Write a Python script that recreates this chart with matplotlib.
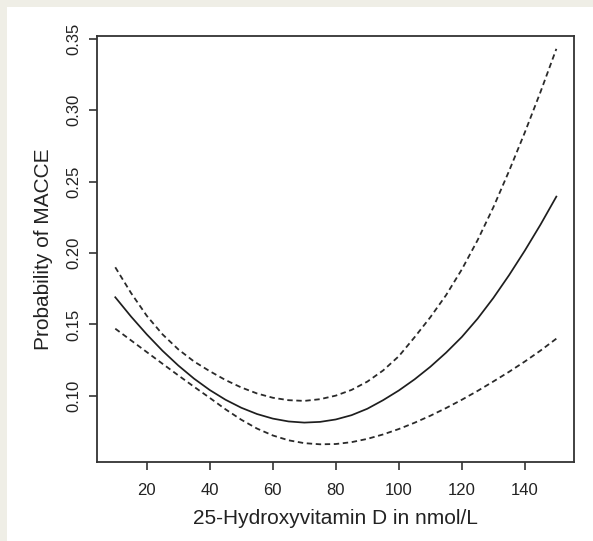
import numpy as np
import matplotlib.pyplot as plt
from matplotlib.patches import Rectangle

# 25-hydroxyvitamin D (nmol/L)
vitd = [10, 15, 20, 25, 30, 35, 40, 45, 50, 55, 60, 65, 70, 75, 80,
        85, 90, 95, 100, 105, 110, 115, 120, 125, 130, 135, 140, 145, 150]

# predicted probability of MACCE
prob = [0.169, 0.1555, 0.143, 0.1315, 0.1212, 0.112, 0.104, 0.0972, 0.0916, 0.0872,
        0.0840, 0.0820, 0.0812, 0.0817, 0.0834, 0.0864, 0.0909, 0.0969, 0.1037,
        0.1115, 0.1203, 0.1302, 0.1412, 0.154, 0.1685, 0.1845, 0.2017, 0.220, 0.2395]

# upper and lower confidence bounds
upper = [0.190, 0.172, 0.156, 0.143, 0.1325, 0.124, 0.1172, 0.111, 0.1058, 0.1016,
         0.0986, 0.0969, 0.0964, 0.0976, 0.1001, 0.1041, 0.1099, 0.1177, 0.1277,
         0.141, 0.155, 0.1705, 0.1885, 0.209, 0.232, 0.2575, 0.2845, 0.313, 0.343]
lower = [0.147, 0.1388, 0.1306, 0.1224, 0.1143, 0.1063, 0.0985, 0.0905, 0.0832, 0.077,
         0.0722, 0.0688, 0.0668, 0.066, 0.0662, 0.0675, 0.0698, 0.0729, 0.0767,
         0.0811, 0.086, 0.0914, 0.0972, 0.1034, 0.110, 0.1168, 0.124, 0.1317, 0.140]

xticks = [20, 40, 60, 80, 100, 120, 140]
yticks = [0.10, 0.15, 0.20, 0.25, 0.30, 0.35]

plt.rcParams['font.family'] = ['Liberation Sans', 'DejaVu Sans']

fig = plt.figure(figsize=(5.93, 5.41), dpi=100, facecolor='#efeee6')
# white panel behind the plot (beige frame at top and left)
panel = Rectangle((7 / 593, 0), 1, 1 - 7 / 541, transform=fig.transFigure,
                  facecolor='white', edgecolor='none', zorder=-10)
fig.add_artist(panel)

ax = fig.add_axes([97 / 593, 1 - 462 / 541, (574 - 97) / 593, (462 - 36) / 541])
ax.set_facecolor('white')

ax.plot(vitd, prob, color='#1e1e1e', lw=1.25)
ax.plot(vitd, upper, color='#2a2a2a', lw=1.3, ls=(0, (3.0, 2.0)))
ax.plot(vitd, lower, color='#2a2a2a', lw=1.3, ls=(0, (3.0, 2.0)))

ax.set_xlim(4.2, 155.6)
ax.set_ylim(0.0536, 0.352)
ax.set_xticks(xticks)
ax.set_yticks(yticks)
ax.set_yticklabels(['%.2f' % v for v in yticks], rotation=90, va='center')

for s in ax.spines.values():
    s.set_color('#333333')
    s.set_linewidth(1.3)
ax.tick_params(axis='both', direction='out', length=6, width=1.2, color='#333333',
               labelsize=12, labelcolor='#222222')
ax.tick_params(axis='x', pad=9)
ax.tick_params(axis='y', pad=5)

ax.set_xlabel('25-Hydroxyvitamin D in nmol/L', fontsize=15, color='#222222', labelpad=8)
ax.set_ylabel('Probability of MACCE', fontsize=15, color='#222222', labelpad=10)

fig.savefig('out.png', dpi=100, facecolor=fig.get_facecolor())
